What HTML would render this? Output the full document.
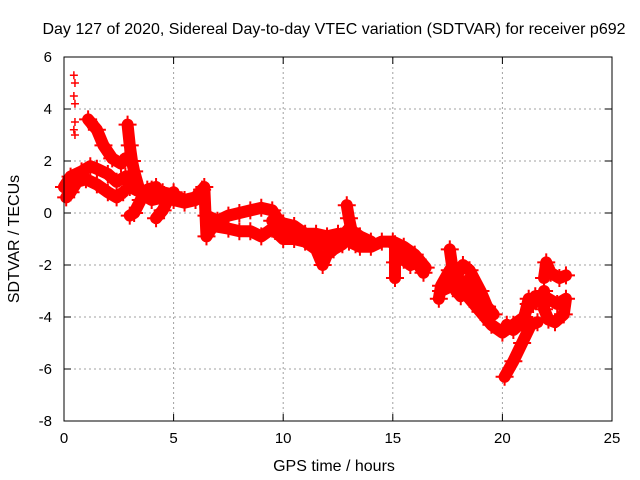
<!DOCTYPE html>
<html><head><meta charset="utf-8"><style>
body{margin:0;background:#fff}
svg{display:block;font-family:"Liberation Sans",sans-serif}
</style></head><body>
<svg id="chart" width="640" height="480">
<text x="334" y="34" font-size="16" text-anchor="middle">Day 127 of 2020, Sidereal Day-to-day VTEC variation (SDTVAR) for receiver p692</text>
<text x="334" y="471" font-size="16" text-anchor="middle">GPS time / hours</text>
<text x="19" y="239" font-size="16" text-anchor="middle" transform="rotate(-90 19 239)">SDTVAR / TECUs</text>
<g id="grid"></g>
<g id="marks"></g>
<rect x="64" y="57" width="548" height="364" fill="none" stroke="#000" stroke-width="1"/>
<g id="ticks"></g>
</svg>
<script>
const xTicks=[0,5,10,15,20,25];
const yTicks=[6,4,2,0,-2,-4,-6,-8];
const bandUpper=[[0,1.0],[0.3,1.4],[0.8,1.6],[1.2,1.8],[1.5,1.7],[2,1.5],[2.4,1.2],[2.8,1.4],[3,1.0],[3.5,0.8],[4,0.9],[4.5,0.8],[5,0.7],[5.5,0.5],[6,0.6],[6.3,0.9]];
const bandLower=[[0.1,0.6],[0.3,0.8],[0.6,1.2],[1,1.3],[1.5,1.1],[2,0.8],[2.4,0.6],[2.7,0.8]];
const highArc=[[1.1,3.6],[1.5,3.2],[1.8,2.6],[2.2,2.1],[2.6,1.9],[2.8,2.1]];
const stormDrop=[[2.9,3.4],[3.0,2.6],[3.1,2.0],[3.2,1.6],[3.4,1.0],[3.6,0.7],[4,0.5],[4.5,0.6],[5,0.5],[5.5,0.4],[6,0.5]];
const dipA=[[3.0,-0.1],[3.2,0.0],[3.5,0.5],[3.8,0.9],[4.2,1.0]];
const dipB=[[4.2,-0.2],[4.5,0.1],[4.8,0.6],[5,0.8]];
const spikeEarly=[[0.45,5.3],[0.5,5.0],[0.45,4.5],[0.5,4.2],[0.5,3.5],[0.45,3.2],[0.5,3.0]];
const midLower=[[6.4,1.0],[6.5,-0.9],[6.8,-0.5],[7.5,-0.6],[8,-0.7],[8.5,-0.7],[9,-0.9],[9.5,-0.6],[10,-1.0],[10.5,-1.0],[11,-1.1],[11.5,-1.4],[11.8,-2.0],[12,-1.6],[12.3,-1.4],[12.7,-1.2]];
const midUpper=[[6.5,-0.1],[7,-0.3],[7.5,-0.1],[8,0.0],[8.5,0.1],[9,0.2],[9.5,0.1],[9.8,-0.3],[10,-0.4],[10.5,-0.5],[11,-0.8],[11.5,-0.8],[12,-0.9],[12.5,-0.8],[13,-1.1],[13.5,-1.3],[14,-1.3],[14.5,-1.1],[15,-1.1],[15.5,-1.3],[16,-1.6],[16.5,-2.1]];
const midMiddle=[[9.5,-0.3],[10,-0.7],[10.5,-0.8],[11,-0.9],[11.5,-1.1],[12,-1.2],[12.5,-1.1],[13,-0.6],[13.5,-0.9],[14,-1.1]];
const spike13=[[12.9,0.3],[13.0,-0.2],[13.1,-0.6],[13.3,-1.2]];
const spike15=[[15.1,-1.2],[15.1,-1.9],[15.1,-2.5]];
const cluster15=[[15.2,-1.3],[15.5,-1.8],[15.8,-2.0],[16.1,-1.9],[16.4,-2.3]];
const lateA=[[17.1,-3.3],[17.2,-2.8],[17.6,-2.2],[18,-2.8],[18.5,-3.3],[19,-3.8],[19.5,-4.3],[20,-4.6],[20.5,-4.3],[21,-4.0],[21.2,-3.3],[21.4,-3.5]];
const lateB=[[17.6,-1.4],[17.8,-2.6],[18.2,-2.0],[18.5,-2.2],[19,-3.0],[19.3,-3.6],[19.6,-3.9]];
const lateC=[[17.2,-3.0],[17.7,-2.8],[18.1,-3.2],[18.4,-2.6],[18.8,-3.0]];
const rise=[[20.1,-6.3],[20.5,-5.7],[20.9,-5.0],[21.3,-4.3],[21.6,-4.2]];
const riseB=[[20.2,-4.3],[20.5,-4.5],[20.9,-4.2],[21.2,-3.5],[21.5,-3.2]];
const rightTop=[[21.9,-2.5],[22,-1.9],[22.2,-2.3],[22.6,-2.5],[22.9,-2.4]];
const rightLoop=[[21.9,-3.2],[22.5,-3.5],[22.9,-3.3],[22.8,-3.9],[22.4,-4.2],[22.1,-4.1],[21.9,-3.7],[21.9,-3.0]];
const traces=[bandUpper,bandLower,highArc,stormDrop,dipA,dipB,midLower,midUpper,midMiddle,spike13,spike15,cluster15,lateA,lateB,lateC,rise,riseB,rightTop,rightLoop];

const X=t=>64+t*548/25;
const Y=v=>57+(6-v)*364/14;
const NS='http://www.w3.org/2000/svg';
const grid=document.getElementById('grid'),ticks=document.getElementById('ticks'),marks=document.getElementById('marks');
function mk(tag,attrs,parent){const e=document.createElementNS(NS,tag);for(const k in attrs)e.setAttribute(k,attrs[k]);parent.appendChild(e);return e;}
xTicks.forEach(t=>{
  if(t>0&&t<25){const g=mk('line',{x1:X(t),x2:X(t),y1:57,y2:421,stroke:'#a0a0a0','stroke-dasharray':'2,3'},grid);
  
  }
  mk('line',{x1:X(t),x2:X(t),y1:421,y2:414,stroke:'#000'},ticks);
  mk('line',{x1:X(t),x2:X(t),y1:57,y2:64,stroke:'#000'},ticks);
  const l=mk('text',{x:X(t),y:443,'font-size':15,'text-anchor':'middle'},ticks);l.textContent=t;
  
  
});
yTicks.forEach(v=>{
  if(v<6&&v>-8){const g=mk('line',{x1:64,x2:612,y1:Y(v),y2:Y(v),stroke:'#a0a0a0','stroke-dasharray':'2,3'},grid);
  
  }
  mk('line',{x1:64,x2:71,y1:Y(v),y2:Y(v),stroke:'#000'},ticks);
  mk('line',{x1:605,x2:612,y1:Y(v),y2:Y(v),stroke:'#000'},ticks);
  const l=mk('text',{x:52,y:Y(v)+5,'font-size':15,'text-anchor':'end'},ticks);l.textContent=v;
  
  
});
traces.forEach(tr=>{
  const p=mk('polyline',{points:tr.map(d=>X(d[0])+','+Y(d[1])).join(' '),fill:'none',stroke:'#f00','stroke-width':12,'stroke-linejoin':'round','stroke-linecap':'round'},marks);
  
  
  tr.forEach(d=>{const m=mk('path',{d:`M${X(d[0])-9},${Y(d[1])}h18M${X(d[0])},${Y(d[1])-9}v18`,stroke:'#f00','stroke-width':2},marks);
    
    });
});
spikeEarly.forEach(d=>{const m=mk('path',{d:`M${X(d[0])-4},${Y(d[1])}h8M${X(d[0])},${Y(d[1])-4}v8`,stroke:'#f00','stroke-width':1.5},marks);
  
  });
</script>
</body></html>
